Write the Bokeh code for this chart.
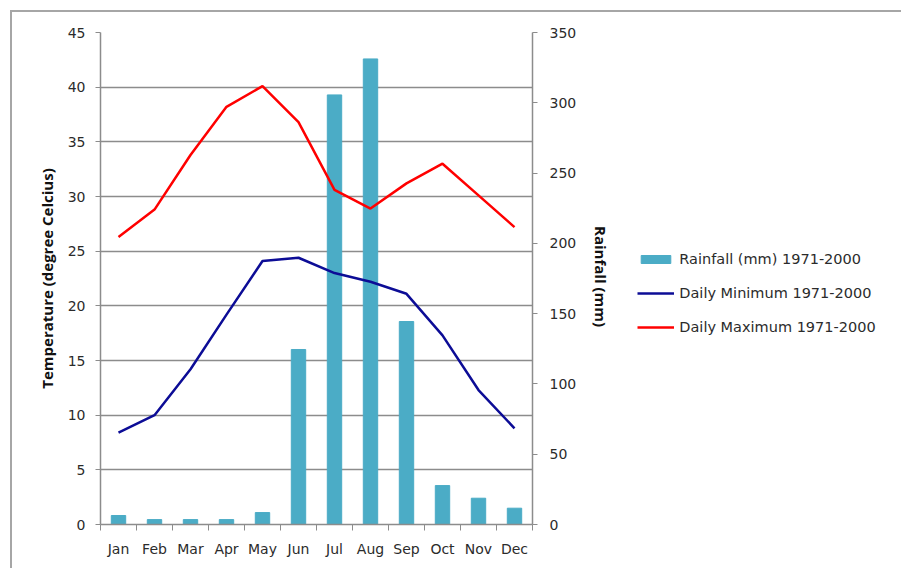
from bokeh.plotting import figure
from bokeh.models import Range1d, LinearAxis, FixedTicker, Legend, LegendItem
from bokeh.embed import file_html
from bokeh.resources import INLINE

# Monthly climate normals 1971-2000
months = ["Jan", "Feb", "Mar", "Apr", "May", "Jun",
          "Jul", "Aug", "Sep", "Oct", "Nov", "Dec"]
rainfall_mm = [6.4, 3.5, 3.5, 3.5, 8.5, 124.5, 305.6, 331.2, 144.4, 27.7, 18.7, 11.6]
daily_min = [8.4, 10.0, 14.2, 19.2, 24.1, 24.4, 23.0, 22.2, 21.1, 17.3, 12.3, 8.8]
daily_max = [26.3, 28.8, 33.8, 38.2, 40.1, 36.8, 30.6, 28.9, 31.2, 33.0, 30.1, 27.2]

temp_ticks = list(range(0, 50, 5))
rain_ticks = list(range(0, 400, 50))

FONT = "DejaVu Sans"
TITLE_FONT = "Open Sans"
TEXT = "#2b2b2b"
GRID = "#8c8c8c"
AXIS = "#8c8c8c"

# month slots: each month occupies one unit, centred on i + 0.5
xs = [i + 0.5 for i in range(len(months))]

# the chart sits 12px in from the page's top-left corner, behind a gray frame
p = figure(frame_width=432, frame_height=492, output_backend="svg", toolbar_location=None,
           x_range=Range1d(0, len(months)), y_range=Range1d(0, 45),
           min_border_left=88, min_border_right=300,
           min_border_top=20, min_border_bottom=44)
p.styles = {"margin-left": "10px", "margin-top": "10px",
            "border-top": "2px solid #a6a6a6", "border-left": "2px solid #a6a6a6"}
p.outline_line_color = None
p.background_fill_color = "white"
p.border_fill_color = "white"
p.extra_y_ranges = {"rain": Range1d(0, 350)}

# x axis: labels centred on months, ticks on month boundaries
xax = p.xaxis[0]
xax.ticker = FixedTicker(ticks=xs, minor_ticks=list(range(len(months) + 1)))
xax.major_label_overrides = {x: m for x, m in zip(xs, months)}
xax.major_tick_line_color = None
xax.minor_tick_in = 0
xax.minor_tick_out = 6
xax.minor_tick_line_color = AXIS
xax.axis_line_color = AXIS
xax.axis_line_width = 1.5
xax.major_label_standoff = 10
xax.major_label_text_font = FONT
xax.major_label_text_font_size = "14px"
xax.major_label_text_color = TEXT

# left axis: temperature
yax = p.yaxis[0]
yax.ticker = FixedTicker(ticks=temp_ticks, minor_ticks=[])
yax.axis_label = "Temperature (degree Celcius)"
yax.axis_label_text_font = TITLE_FONT
yax.axis_label_text_font_style = "bold"
yax.axis_label_text_font_size = "15px"
yax.axis_label_text_color = "#111111"
yax.axis_label_standoff = 8
yax.major_tick_in = 0
yax.major_tick_out = 5
yax.major_tick_line_color = AXIS
yax.axis_line_color = AXIS
yax.axis_line_width = 1.5
yax.major_label_standoff = 10
yax.major_label_text_font = FONT
yax.major_label_text_font_size = "14px"
yax.major_label_text_color = TEXT

# right axis: rainfall
rax = LinearAxis(y_range_name="rain", ticker=FixedTicker(ticks=rain_ticks, minor_ticks=[]))
rax.axis_label = "Rainfall  (mm)"
rax.axis_label_text_font = TITLE_FONT
rax.axis_label_text_font_style = "bold"
rax.axis_label_text_font_size = "15px"
rax.axis_label_text_color = "#111111"
rax.axis_label_standoff = 12
rax.major_tick_in = 0
rax.major_tick_out = 5
rax.major_tick_line_color = AXIS
rax.axis_line_color = AXIS
rax.axis_line_width = 1.5
rax.major_label_standoff = 12
rax.major_label_text_font = FONT
rax.major_label_text_font_size = "14px"
rax.major_label_text_color = TEXT
p.add_layout(rax, "right")

p.xgrid.grid_line_color = None
p.ygrid.ticker = FixedTicker(ticks=temp_ticks, minor_ticks=[])
p.ygrid.grid_line_color = GRID
p.ygrid.grid_line_width = 1.5

bars = p.vbar(x=xs, top=rainfall_mm, width=0.4, y_range_name="rain",
              fill_color="#4bacc6", line_color="#4bacc6")
min_line = p.line(xs, daily_min, line_color="#0c0c96", line_width=2.5)
max_line = p.line(xs, daily_max, line_color="#ff0000", line_width=2.5)

legend = Legend(items=[
    LegendItem(label="Rainfall (mm) 1971-2000", renderers=[bars]),
    LegendItem(label="Daily Minimum 1971-2000", renderers=[min_line]),
    LegendItem(label="Daily Maximum 1971-2000", renderers=[max_line]),
], location=(-209, 189), orientation="vertical")
legend.padding = 0
legend.margin = 0
legend.border_line_color = None
legend.background_fill_alpha = 0
legend.glyph_width = 37
legend.glyph_height = 10
legend.label_height = 10
legend.spacing = 18
legend.label_standoff = 5
legend.label_text_font = FONT
legend.label_text_font_size = "14.5px"
legend.label_text_color = TEXT
p.add_layout(legend, "right")

open("out.html", "w").write(file_html(p, INLINE))
